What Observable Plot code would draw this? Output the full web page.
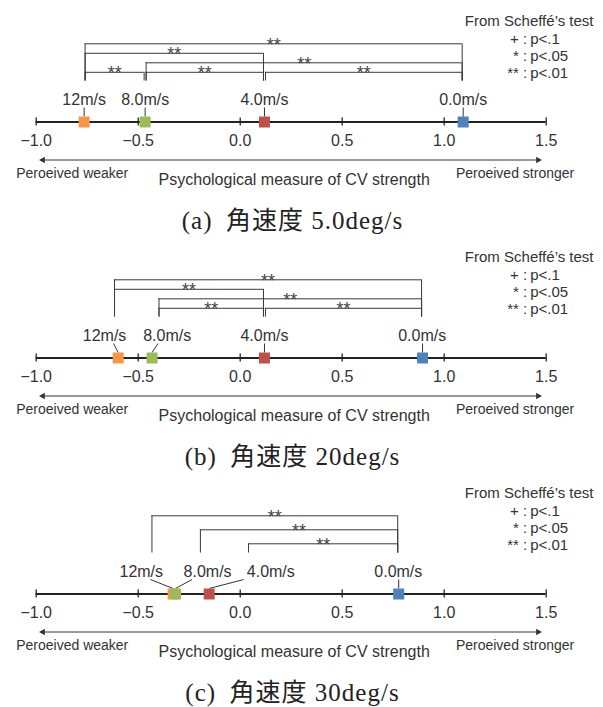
<!DOCTYPE html>
<html>
<head>
<meta charset="utf-8">
<script src="https://cdn.jsdelivr.net/npm/d3@7"></script>
<script src="https://cdn.jsdelivr.net/npm/@observablehq/plot@0.6"></script>
<style>
  body { margin: 0; background: #fff; }
  .cap { height: 36px; line-height: 36px; text-align: center; white-space: pre; padding-top: 3px; padding-right: 18px; box-sizing: border-box;
         font-family: "Liberation Serif", "Noto Sans CJK JP", serif; font-size: 25px; color: #222; letter-spacing: 1px; }
</style>
</head>
<body>
<div id="chart"></div>
<script>
// ---------- data ----------
const speedLabels = ["12m/s", "8.0m/s", "4.0m/s", "0.0m/s"];
const speedColors = ["#F79646", "#9BBB59", "#C0504D", "#4F81BD"];
const tickValues = [-1.0, -0.5, 0.0, 0.5, 1.0, 1.5];
const arrowSpan = [-0.977, 1.47];

// psychological scale values
const scoreA = [-0.765, -0.466, 0.119, 1.093];
const scoreB = [-0.598, -0.432, 0.119, 0.894];
const scoreC = [-0.329, -0.317, -0.152, 0.777];

// label / leader / bracket anchor positions (scale units)
const labelXA = [-0.765, -0.466, 0.119, 1.093];
const leaderXA = [-0.765, -0.466, 0.119, 1.093];
const bracketXA = [-0.765, -0.466, 0.119, 1.093];
const labelXB = [-0.665, -0.358, 0.119, 0.892];
const leaderXB = [-0.621, -0.403, 0.119, 0.894];
const bracketXB = [-0.621, -0.403, 0.119, 0.894];
const labelXC = [-0.485, -0.16, 0.15, 0.775];
const leaderXC = [-0.44, -0.236, 0.017, 0.777];
const bracketXC = [-0.4375, -0.20, 0.036, 0.777];

// Scheffé comparisons: [from, to, level, mark]
const pairsA = [[0, 3, 0, "**"], [0, 2, 1, "**"], [1, 3, 2, "**"], [0, 1, 3, "**"], [1, 2, 3, "**"], [2, 3, 3, "**"]];
const pairsB = [[0, 3, 0, "**"], [0, 2, 1, "**"], [1, 3, 2, "**"], [1, 2, 3, "**"], [2, 3, 3, "**"]];
const pairsC = [[0, 3, 0, "**"], [1, 3, 1, "**"], [2, 3, 2, "**"]];

const legendTitle = "From Scheffé’s test";
const legendSymbols = ["+", "*", "**"];
const legendValues = ["p<.1", "p<.05", "p<.01"];

const captions = ["(a)\u2002角速度 5.0deg/s", "(b)\u2002角速度 20deg/s", "(c)\u2002角速度 30deg/s"];
const axisTitle = "Psychological measure of CV strength";
const leftNote = "Peroeived weaker";
const rightNote = "Peroeived stronger";

// ---------- layout (pixels inside each panel) ----------
const W = 603, H = 200;
const AXIS_Y = 121.5, LABEL_Y = 104, LEAD_TOP = 107, LEAD_BOT = 116;
const TICKLAB_Y = 145, ARROW_Y = 159.5, NOTE_Y = 177, TITLE_Y = 184;
const BR_TOP = 43.3, BR_BOTTOM = 80.5;
const LEG_Y = [25, 43, 60, 77];
const ink = "#333";

function panel(score, labelX, leaderX, bracketX, pairs, levelStep) {
  const pts = score.map((v, i) => ({x: v, label: speedLabels[i], color: speedColors[i],
                                     lx: labelX[i], ldx: leaderX[i]}));
  const br = pairs.map(([a, b, lev, m]) => ({x1: bracketX[a], x2: bracketX[b],
                                             y: BR_TOP + lev * levelStep, m}));
  const fmt = d3.format(".1f");
  return Plot.plot({
    width: W, height: H,
    marginLeft: 35.7, marginRight: 57.3, marginTop: 0, marginBottom: 0,
    x: {domain: [-1, 1.5], axis: null},
    y: {type: "identity", axis: null},
    color: {type: "identity"},
    style: {fontFamily: "'Liberation Sans', Arial, sans-serif", color: ink, background: "#fff", overflow: "visible"},
    marks: [
      // legend
      Plot.text([legendTitle], {text: d => d, frameAnchor: "right", y: LEG_Y[0], dx: -17, lineAnchor: "bottom", textAnchor: "middle", fontSize: 15, fill: ink}),
      Plot.text(legendSymbols, {text: d => d + " :", frameAnchor: "right", y: (d, i) => LEG_Y[i + 1], dx: -19, lineAnchor: "bottom", textAnchor: "end", fontSize: 15, fill: ink}),
      Plot.text(legendValues, {text: d => d, frameAnchor: "right", y: (d, i) => LEG_Y[i + 1], dx: -16, lineAnchor: "bottom", textAnchor: "start", fontSize: 15, fill: ink}),
      // brackets
      Plot.ruleX(br, {x: "x1", y1: "y", y2: BR_BOTTOM, dx: 1, stroke: "#3a3a3a", strokeWidth: 1}),
      Plot.ruleX(br, {x: "x2", y1: "y", y2: BR_BOTTOM, dx: -1, stroke: "#3a3a3a", strokeWidth: 1}),
      Plot.ruleY(br, {x1: "x1", x2: "x2", y: "y", insetLeft: 1, insetRight: 1, stroke: "#3a3a3a", strokeWidth: 1}),
      Plot.text(br, {x: d => (d.x1 + d.x2) / 2, y: d => d.y + 7, text: "m", lineAnchor: "bottom", fontSize: 18, fill: "#444"}),
      // axis
      Plot.ruleY([AXIS_Y], {x1: -1, x2: 1.5, y: d => d, stroke: "#222", strokeWidth: 2}),
      Plot.ruleX(tickValues, {x: d => d, y1: AXIS_Y - 4, y2: AXIS_Y + 4, stroke: "#222", strokeWidth: 1.3}),
      Plot.text(tickValues, {x: d => d, y: TICKLAB_Y, text: d => fmt(d), lineAnchor: "bottom", fontSize: 16, fill: ink}),
      // speed labels + leaders
      Plot.text(pts, {x: "lx", y: LABEL_Y, text: "label", lineAnchor: "bottom", fontSize: 16, fill: ink}),
      Plot.link(pts, {x1: "ldx", y1: LEAD_TOP, x2: "x", y2: LEAD_BOT, stroke: ink, strokeWidth: 1}),
      // points
      Plot.dot(pts, {x: "x", y: AXIS_Y, symbol: "square", r: 6.2, fill: "color", stroke: "none"}),
      // direction arrow
      Plot.ruleY([ARROW_Y], {x1: arrowSpan[0], x2: arrowSpan[1], y: d => d, stroke: ink, strokeWidth: 1.2, insetLeft: 3, insetRight: 3}),
      Plot.dot([arrowSpan[0]], {x: d => d, y: ARROW_Y, symbol: "triangle2", rotate: -90, r: 3.2, fill: ink, dx: 2}),
      Plot.dot([arrowSpan[1]], {x: d => d, y: ARROW_Y, symbol: "triangle2", rotate: 90, r: 3.2, fill: ink, dx: -2}),
      Plot.text([leftNote], {text: d => d, frameAnchor: "left", y: NOTE_Y, dx: -20, textAnchor: "start", lineAnchor: "bottom", fontSize: 14, fill: ink}),
      Plot.text([rightNote], {text: d => d, frameAnchor: "right", y: NOTE_Y, dx: 28, textAnchor: "end", lineAnchor: "bottom", fontSize: 14, fill: ink}),
      Plot.text([axisTitle], {text: d => d, frameAnchor: "middle", y: TITLE_Y, dx: 3, lineAnchor: "bottom", fontSize: 16, fill: ink})
    ]
  });
}

const root = document.getElementById("chart");
const panels = [
  panel(scoreA, labelXA, leaderXA, bracketXA, pairsA, 9.5),
  panel(scoreB, labelXB, leaderXB, bracketXB, pairsB, 9.5),
  panel(scoreC, labelXC, leaderXC, bracketXC, pairsC, 14)
];
panels.forEach((svg, i) => {
  root.appendChild(svg);
  const cap = document.createElement("div");
  cap.className = "cap";
  cap.textContent = captions[i];
  root.appendChild(cap);
});
</script>
</body>
</html>
